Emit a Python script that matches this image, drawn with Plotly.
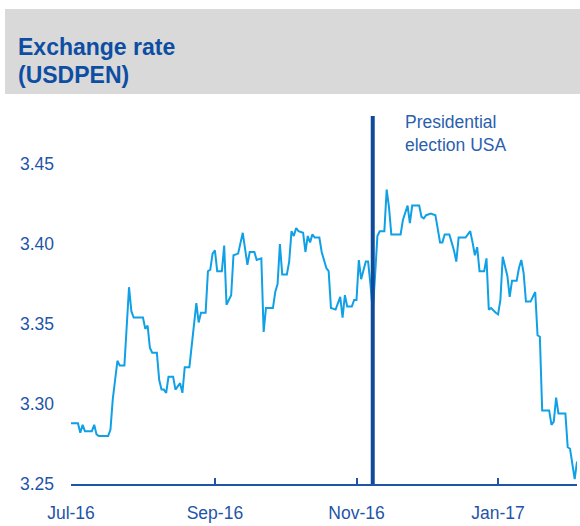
import plotly.graph_objects as go

dates = [
    "2016-07-01", "2016-07-04", "2016-07-05", "2016-07-06", "2016-07-07", "2016-07-10",
    "2016-07-11", "2016-07-12", "2016-07-13", "2016-07-17", "2016-07-18", "2016-07-19",
    "2016-07-20", "2016-07-21", "2016-07-22", "2016-07-24", "2016-07-26", "2016-07-27",
    "2016-07-28", "2016-08-01", "2016-08-02", "2016-08-03", "2016-08-04", "2016-08-05",
    "2016-08-07", "2016-08-08", "2016-08-09", "2016-08-10", "2016-08-11", "2016-08-12",
    "2016-08-14", "2016-08-15", "2016-08-16", "2016-08-17", "2016-08-18", "2016-08-19",
    "2016-08-21", "2016-08-24", "2016-08-25", "2016-08-26", "2016-08-28", "2016-08-29",
    "2016-08-30", "2016-08-31", "2016-09-01", "2016-09-02", "2016-09-04", "2016-09-05",
    "2016-09-06", "2016-09-07", "2016-09-08", "2016-09-09", "2016-09-11", "2016-09-13",
    "2016-09-14", "2016-09-15", "2016-09-16", "2016-09-18", "2016-09-19", "2016-09-21",
    "2016-09-22", "2016-09-23", "2016-09-26", "2016-09-27", "2016-09-28", "2016-09-29",
    "2016-09-30", "2016-10-02", "2016-10-03", "2016-10-04", "2016-10-05", "2016-10-06",
    "2016-10-07", "2016-10-09", "2016-10-10", "2016-10-11", "2016-10-12", "2016-10-13",
    "2016-10-14", "2016-10-16", "2016-10-17", "2016-10-19", "2016-10-20", "2016-10-21",
    "2016-10-23", "2016-10-25", "2016-10-26", "2016-10-27", "2016-10-28", "2016-10-30",
    "2016-10-31", "2016-11-01", "2016-11-02", "2016-11-03", "2016-11-05", "2016-11-06",
    "2016-11-07", "2016-11-08", "2016-11-09", "2016-11-10", "2016-11-11", "2016-11-13",
    "2016-11-14", "2016-11-15", "2016-11-16", "2016-11-20", "2016-11-21", "2016-11-22",
    "2016-11-23", "2016-11-24", "2016-11-25", "2016-11-28", "2016-11-29", "2016-11-30",
    "2016-12-01", "2016-12-03", "2016-12-05", "2016-12-07", "2016-12-08", "2016-12-09",
    "2016-12-11", "2016-12-12", "2016-12-13", "2016-12-14", "2016-12-15", "2016-12-18",
    "2016-12-19", "2016-12-20", "2016-12-21", "2016-12-22", "2016-12-23", "2016-12-24",
    "2016-12-26", "2016-12-27", "2016-12-28", "2016-12-29", "2016-12-31", "2017-01-01",
    "2017-01-02", "2017-01-03", "2017-01-05", "2017-01-06", "2017-01-07", "2017-01-09",
    "2017-01-10", "2017-01-11", "2017-01-12", "2017-01-13", "2017-01-15", "2017-01-17",
    "2017-01-18", "2017-01-19", "2017-01-20", "2017-01-23", "2017-01-24", "2017-01-25",
    "2017-01-26", "2017-01-27", "2017-01-30", "2017-01-31", "2017-02-01", "2017-02-03",
    "2017-02-04",
]

usdpen = [
    3.288, 3.288, 3.282, 3.287, 3.283, 3.283,
    3.287, 3.281, 3.280, 3.280, 3.284, 3.303,
    3.315, 3.327, 3.324, 3.324, 3.373, 3.358,
    3.354, 3.354, 3.347, 3.349, 3.335, 3.332,
    3.332, 3.315, 3.309, 3.309, 3.307, 3.317,
    3.317, 3.309, 3.311, 3.313, 3.307, 3.323,
    3.323, 3.363, 3.351, 3.357, 3.357, 3.383,
    3.384, 3.394, 3.396, 3.383, 3.383, 3.399,
    3.362, 3.365, 3.368, 3.393, 3.394, 3.407,
    3.396, 3.387, 3.395, 3.395, 3.390, 3.391,
    3.345, 3.360, 3.360, 3.370, 3.375, 3.400,
    3.381, 3.381, 3.389, 3.408, 3.405, 3.410,
    3.408, 3.407, 3.395, 3.405, 3.401, 3.406,
    3.404, 3.404, 3.395, 3.385, 3.383, 3.360,
    3.359, 3.367, 3.354, 3.368, 3.361, 3.361,
    3.365, 3.365, 3.390, 3.378, 3.389, 3.389,
    3.375, 3.358, 3.380, 3.405, 3.408, 3.408,
    3.434, 3.423, 3.406, 3.406, 3.415, 3.420,
    3.424, 3.413, 3.424, 3.424, 3.417, 3.416,
    3.418, 3.419, 3.418, 3.401, 3.401, 3.406,
    3.406, 3.401, 3.396, 3.389, 3.404, 3.404,
    3.406, 3.408, 3.401, 3.393, 3.398, 3.383,
    3.383, 3.391, 3.359, 3.360, 3.357, 3.356,
    3.365, 3.392, 3.380, 3.367, 3.377, 3.377,
    3.385, 3.390, 3.382, 3.364, 3.364, 3.370,
    3.343, 3.342, 3.296, 3.296, 3.287, 3.289,
    3.304, 3.294, 3.294, 3.273, 3.272, 3.253,
    3.264,
]

x_tick_vals = ["2016-07-01", "2016-09-01", "2016-11-01", "2017-01-01"]
x_tick_text = ["Jul-16", "Sep-16", "Nov-16", "Jan-17"]
y_tick_vals = [3.25, 3.30, 3.35, 3.40, 3.45]
event_date = "2016-11-08"
event_label = "Presidential<br>election USA"
title_lines = ["Exchange rate", "(USDPEN)"]

W, H = 580, 526
L, R, T, B = 71, 3, 116, 42
pw, ph = W - L - R, H - T - B

def px(xp):
    return (xp - L) / pw

def py(yp):
    return (H - B - yp) / ph

FONT = "Liberation Sans, Arial, sans-serif"
BLUE = "#1f55a8"
TITLE_BLUE = "#0d4ea3"

fig = go.Figure()
fig.add_trace(go.Scatter(
    x=dates, y=usdpen, mode="lines",
    line=dict(color="#10a0e6", width=2),
    showlegend=False, hoverinfo="x+y",
))

shapes = [
    dict(type="rect", xref="paper", yref="paper",
         x0=px(5), x1=px(580), y0=py(94), y1=py(9),
         fillcolor="#d9d9d9", line=dict(width=0), layer="below"),
    dict(type="line", xref="x", yref="paper",
         x0=event_date, x1=event_date, y0=0, y1=1,
         line=dict(color="#0f4a9b", width=4)),
]

annotations = []
for i, t in enumerate(title_lines):
    annotations.append(dict(
        text=t, xref="paper", yref="paper", x=px(16), y=py(46.5 + 28.5 * i),
        xanchor="left", yanchor="middle", showarrow=False,
        font=dict(family=FONT, size=23, color=TITLE_BLUE, weight="bold"),
    ))
annotations.append(dict(
    text=event_label, xref="paper", yref="paper", x=px(403), y=py(110),
    xanchor="left", yanchor="top", align="left", showarrow=False,
    font=dict(family=FONT, size=17.5, color="#2b5fae"),
))

fig.update_layout(
    width=W, height=H,
    margin=dict(l=L, r=R, t=T, b=B),
    paper_bgcolor="white", plot_bgcolor="white",
    font=dict(family=FONT, size=17, color=BLUE),
    shapes=shapes, annotations=annotations,
    xaxis=dict(
        type="date", range=["2016-07-01", "2017-02-04"],
        tickvals=x_tick_vals, ticktext=x_tick_text,
        showgrid=False, zeroline=False,
        showline=True, linecolor=BLUE, linewidth=1.5,
        ticks="inside", ticklen=6, tickwidth=1.5, tickcolor=BLUE,
        ticklabelstandoff=12,
        tickfont=dict(family=FONT, size=17.5, color=BLUE),
    ),
    yaxis=dict(
        range=[3.25, 3.48], tickvals=y_tick_vals, tickformat=".2f",
        showgrid=False, zeroline=False, showline=False, ticks="",
        ticklabelstandoff=16,
        tickfont=dict(family=FONT, size=17.5, color=BLUE),
    ),
)

fig.write_html("out.html", config={"displayModeBar": False},
               post_script="document.body.style.margin='0';")
